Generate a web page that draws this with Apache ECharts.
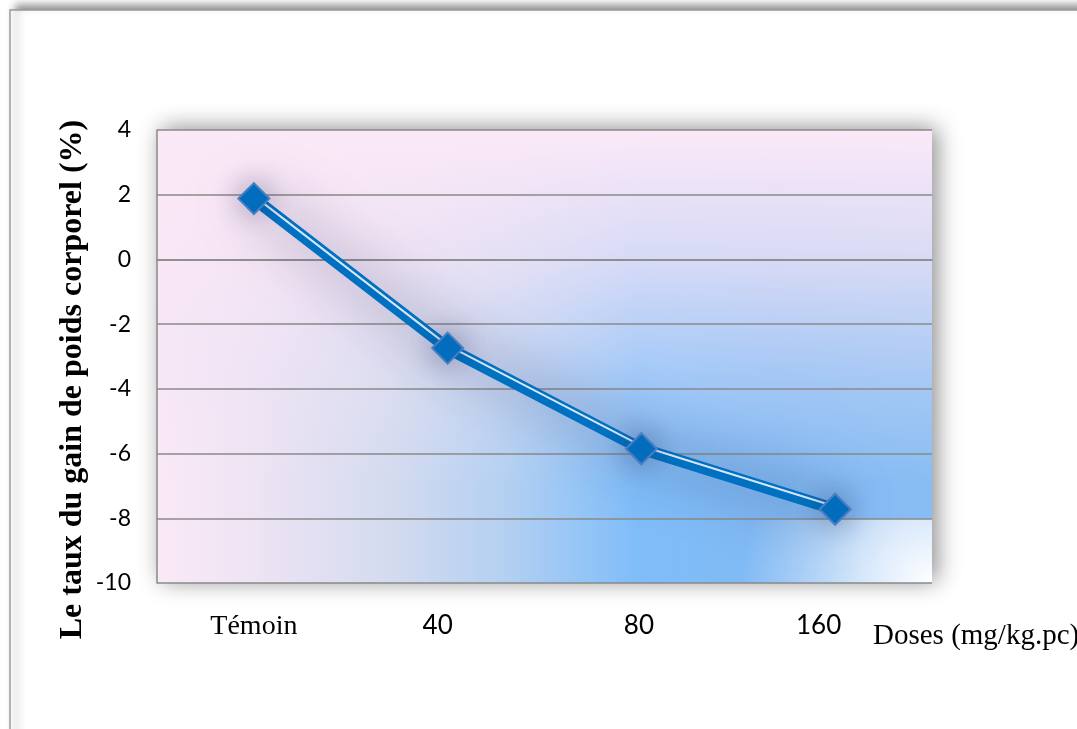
<!DOCTYPE html>
<html>
<head>
<meta charset="utf-8">
<script src="https://cdn.jsdelivr.net/npm/echarts@6/dist/echarts.min.js"></script>
<style>
html,body{margin:0;padding:0;background:#fff;}
#chart{width:1077px;height:729px;}
</style>
</head>
<body>
<div id="chart"></div>
<script>
// ---- data ----
var categories = ['Témoin', '40', '80', '160'];
var gainValues = [1.88, -2.74, -5.85, -7.72];
var yTicks = { min: -10, max: 4, interval: 2 };
var yTitle = 'Le taux du gain de poids corporel (%)';
var xTitle = 'Doses (mg/kg.pc)';

// ---- layout ----
var G = { left: 157, top: 130, right: 145, bottom: 146 };
var W = 1077, H = 729;
var gw = W - G.left - G.right, gh = H - G.top - G.bottom;
var stripeShift = 0.085; // small shift (axis units) of the white stripe above the line centre

var chart = echarts.init(document.getElementById('chart'), null, { renderer: 'canvas' });

// label nudges (the source labels are not exactly centred)
var labelStyle = {
  'Témoin': { fontFamily: 'Liberation Serif', fontSize: 28, color: '#000' },
  '40': { fontFamily: 'Lato', fontSize: 26, color: '#000', padding: [0, 20, 0, 0] },
  '80': { fontFamily: 'Lato', fontSize: 26, color: '#000', padding: [0, 5, 0, 0] },
  '160': { fontFamily: 'Lato', fontSize: 26, color: '#000', padding: [0, 33, 0, 0] }
};
var rich = {}, keys = ['a', 'b', 'c', 'd'];
categories.forEach(function (c, i) { rich[keys[i]] = labelStyle[c]; });

var option = {
  animation: false,
  backgroundColor: '#ffffff',
  grid: { left: G.left, top: G.top, right: G.right, bottom: G.bottom, show: false },
  graphic: [
    { type: 'rect', z: -30, shape: { x: 10, y: 10, width: 1200, height: 900 },
      style: { fill: '#ffffff', stroke: '#9a9a9a', lineWidth: 1.5,
               shadowBlur: 8, shadowColor: 'rgba(0,0,0,0.45)', shadowOffsetX: 6, shadowOffsetY: -4 } },
    { type: 'rect', z: -20, shape: { x: G.left, y: G.top, width: gw, height: gh },
      style: {
        fill: { type: 'linear', x: 0, y: 0, x2: 1, y2: 0, colorStops: [
          { offset: 0, color: '#fbe9f7' },
          { offset: 0.12, color: '#eee4f4' },
          { offset: 0.3, color: '#d4dbef' },
          { offset: 0.45, color: '#b3d0f2' },
          { offset: 0.62, color: '#7fbdf9' },
          { offset: 0.8, color: '#82baf4' },
          { offset: 1, color: '#88bdf3' } ] },
        shadowBlur: 22, shadowColor: 'rgba(0,0,0,0.45)', shadowOffsetX: 5, shadowOffsetY: -2 } },
    { type: 'rect', z: -19, shape: { x: G.left, y: G.top, width: gw, height: gh },
      style: {
        fill: { type: 'linear', x: 0, y: 0, x2: 0, y2: 1, colorStops: [
          { offset: 0, color: 'rgba(252,233,248,1)' },
          { offset: 0.3, color: 'rgba(248,230,246,0.7)' },
          { offset: 0.55, color: 'rgba(240,228,246,0.3)' },
          { offset: 0.78, color: 'rgba(240,228,246,0)' },
          { offset: 1, color: 'rgba(240,228,246,0)' } ] } } },
    { type: 'rect', z: -18, shape: { x: G.left + gw - 200, y: G.top + gh - 64, width: 200, height: 64 },
      style: {
        fill: { type: 'radial', x: G.left + gw, y: G.top + gh, r: 190, global: true, colorStops: [
          { offset: 0, color: 'rgba(255,255,255,1)' },
          { offset: 0.35, color: 'rgba(245,248,253,0.75)' },
          { offset: 1, color: 'rgba(230,238,250,0)' } ] } } },
    { type: 'text', z: 10, x: 873, y: 636,
      style: { text: xTitle, fontFamily: 'Liberation Serif', fontSize: 29, fill: '#000',
               align: 'left', verticalAlign: 'middle' } }
  ],
  xAxis: {
    type: 'category',
    data: categories,
    boundaryGap: true,
    axisLine: { show: true, lineStyle: { color: '#8a8a8a', width: 1.5 } },
    axisTick: { show: false },
    splitLine: { show: false },
    axisLabel: {
      margin: 30,
      formatter: function (v, i) { return '{' + keys[i] + '|' + v + '}'; },
      rich: rich
    }
  },
  yAxis: [{
    type: 'value',
    min: yTicks.min, max: yTicks.max, interval: yTicks.interval,
    axisLine: { show: true, lineStyle: { color: '#8a8a8a', width: 1.5 } },
    axisTick: { show: false },
    splitLine: { show: true, lineStyle: { color: '#8a8a8a', width: 1.5 } },
    axisLabel: { margin: 26, fontFamily: 'Lato', fontSize: 23, color: '#000' },
    name: yTitle,
    nameLocation: 'middle',
    nameGap: 68,
    nameMoveOverlap: false,
    nameTextStyle: { fontFamily: 'Liberation Serif', fontWeight: 'bold', fontSize: 32, color: '#000',
                     padding: [0, 46, 0, 0] }
  }, {
    type: 'value', show: false,
    min: yTicks.min - stripeShift, max: yTicks.max - stripeShift,
    splitLine: { show: false }
  }],
  series: [
    { type: 'line', data: gainValues, z: 2, symbol: 'none',
      lineStyle: { width: 12, color: '#0070c0', shadowBlur: 55, shadowColor: 'rgba(30,35,80,0.6)' } },
    { type: 'line', data: gainValues, yAxisIndex: 1, z: 3, symbol: 'none',
      lineStyle: { width: 2, color: 'rgba(225,236,252,0.95)' } },
    { type: 'line', data: gainValues, z: 4, symbol: 'diamond', symbolSize: 31,
      lineStyle: { width: 0, opacity: 0 },
      itemStyle: { color: '#0070c0', borderColor: '#4a7ec4', borderWidth: 2,
                   shadowBlur: 28, shadowColor: 'rgba(30,35,80,0.4)' } }
  ]
};
chart.setOption(option);
</script>
</body>
</html>
